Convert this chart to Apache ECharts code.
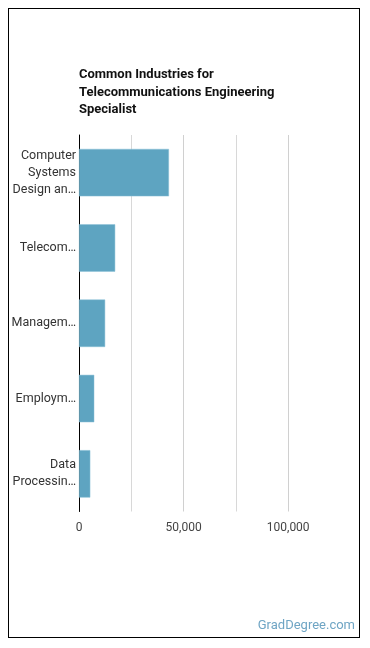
<!DOCTYPE html>
<html>
<head>
<meta charset="utf-8">
<script src="https://cdn.jsdelivr.net/npm/echarts@6/dist/echarts.min.js"></script>
<style>
  html, body { margin: 0; padding: 0; background: #fff; }
  #frame {
    position: absolute;
    left: 8px; top: 8px;
    width: 350px; height: 628px;
    border: 1px solid #000;
  }
  #chart { position: absolute; left: 0; top: 0; width: 370px; height: 648px; }
</style>
</head>
<body>
<div id="frame"></div>
<div id="chart"></div>
<script>
// industries as shown on the axis (truncated like the original)
var industries = [
  "Computer\nSystems\nDesign an\u2026",
  "Telecom\u2026",
  "Managem\u2026",
  "Employm\u2026",
  "Data\nProcessin\u2026"
];
var employees = [43000, 17300, 12500, 7300, 5400];
var tickLabels = { 0: "0", 50000: "50,000", 100000: "100,000" };

var chart = echarts.init(document.getElementById("chart"));

var option = {
  animation: false,
  title: {
    text: "Common Industries for\nTelecommunications Engineering\nSpecialist",
    left: 79,
    top: 66,
    padding: 0,
    textStyle: {
      fontFamily: "Roboto",
      fontSize: 13,
      fontWeight: "bold",
      color: "#111",
      lineHeight: 17.5
    }
  },
  graphic: [
    {
      type: "text",
      right: 15,
      top: 619,
      style: {
        text: "GradDegree.com",
        fill: "#6fa5c4",
        font: "13px Roboto"
      }
    }
  ],
  grid: {
    left: 79,
    right: 29.5,
    top: 135,
    bottom: 136.5,
    containLabel: false
  },
  xAxis: {
    type: "value",
    min: 0,
    max: 125000,
    interval: 25000,
    axisLine: { show: false },
    axisTick: { show: false },
    axisLabel: {
      margin: 10,
      fontFamily: "Roboto",
      fontSize: 12,
      color: "#444",
      formatter: function (v) {
        return tickLabels[v] !== undefined ? tickLabels[v] : "";
      }
    },
    splitLine: {
      lineStyle: {
        // hide the last line at the max edge
        color: ["#d8d8d8", "#d8d8d8", "#d0d0d0", "#d8d8d8", "#d0d0d0", "rgba(0,0,0,0)"],
        width: 1
      }
    }
  },
  yAxis: {
    type: "category",
    inverse: true,
    data: industries,
    axisLine: { show: true, lineStyle: { color: "#000", width: 1 } },
    axisTick: { show: false },
    axisLabel: {
      margin: 3,
      fontFamily: "Roboto",
      fontSize: 12.5,
      lineHeight: 17,
      color: "#333",
      align: "right"
    }
  },
  series: [
    {
      type: "bar",
      data: employees,
      barCategoryGap: "37%",
      itemStyle: {
        color: "#5ea4c1",
        borderColor: "#8cc0d6",
        borderWidth: 0.5
      }
    }
  ]
};

chart.setOption(option);
</script>
</body>
</html>
